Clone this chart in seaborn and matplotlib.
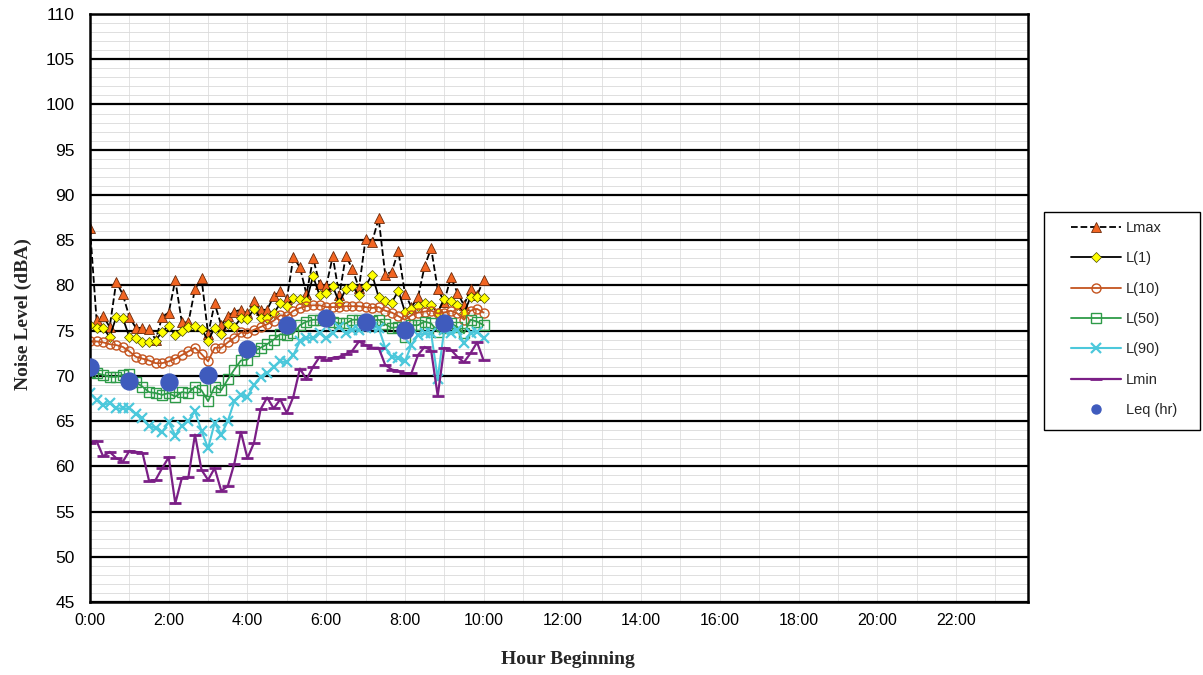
import numpy as np
import pandas as pd
import matplotlib
matplotlib.use('Agg')
import matplotlib.pyplot as plt
import seaborn as sns
from matplotlib.ticker import MultipleLocator, FuncFormatter
from matplotlib.lines import Line2D
from matplotlib.patches import Rectangle

# ==========================================
# DATA (10-minute readings, 0:00 - 10:00)
# ==========================================
lmax = [86.3, 76.2, 76.6, 75.4, 80.4, 79.0, 76.5, 75.3, 75.3, 75.2,
        74.0, 76.5, 77.0, 80.6, 75.9, 75.9, 79.6, 80.8, 74.6, 78.0,
        75.6, 76.6, 77.1, 77.3, 76.9, 78.3, 77.3, 77.3, 78.8, 79.4,
        78.5, 83.1, 82.0, 79.0, 83.0, 80.2, 79.9, 83.2, 78.9, 83.3,
        81.8, 79.7, 85.1, 84.8, 87.4, 81.2, 81.5, 83.8, 79.1, 77.6,
        78.7, 82.1, 84.1, 79.6, 78.2, 80.9, 79.2, 77.8, 79.6, 78.9,
        80.6]
l1 = [75.6, 75.3, 75.3, 74.3, 76.5, 76.4, 74.3, 74.2, 73.7, 73.7,
      73.9, 74.9, 75.5, 74.5, 75.0, 75.4, 75.5, 75.2, 73.9, 75.3,
      74.6, 75.7, 75.4, 76.4, 76.3, 77.4, 76.4, 76.4, 76.9, 78.0,
      77.7, 78.6, 78.5, 78.3, 81.0, 78.9, 79.2, 79.9, 78.1, 79.6,
      79.9, 78.9, 79.9, 81.2, 78.7, 78.3, 78.1, 79.4, 77.1, 77.4,
      77.7, 78.0, 77.8, 77.0, 78.5, 78.3, 77.8, 76.9, 78.7, 78.7,
      78.6]
l10 = [73.8, 73.8, 73.7, 73.5, 73.4, 73.2, 72.7, 72.1, 71.9, 71.7,
       71.4, 71.4, 71.6, 71.9, 72.3, 72.7, 73.1, 72.4, 71.6, 73.1,
       73.1, 73.7, 74.2, 74.8, 74.7, 75.1, 75.4, 75.7, 76.1, 76.7,
       76.6, 77.2, 77.5, 77.7, 77.8, 77.8, 77.6, 77.6, 77.6, 77.7,
       77.7, 77.7, 77.6, 77.5, 77.6, 77.2, 77.0, 76.6, 76.2, 76.7,
       77.0, 77.1, 77.2, 76.9, 77.0, 77.2, 76.9, 76.2, 77.2, 77.4,
       77.0]
l50 = [70.4, 70.3, 70.1, 69.9, 69.9, 70.1, 70.2, 69.3, 68.8, 68.2,
       68.1, 67.9, 68.1, 67.7, 68.2, 68.1, 68.8, 68.4, 67.2, 68.8,
       68.4, 69.6, 70.7, 71.7, 71.8, 72.7, 73.1, 73.5, 74.0, 74.6,
       74.5, 74.7, 75.6, 76.0, 76.2, 76.2, 76.4, 76.0, 75.8, 75.8,
       76.2, 76.2, 76.2, 76.1, 76.2, 75.7, 75.3, 75.4, 74.3, 75.6,
       75.6, 76.0, 75.8, 74.9, 75.3, 75.8, 75.4, 74.7, 76.2, 76.0,
       75.6]
l90 = [68.1, 67.3, 66.8, 67.0, 66.4, 66.4, 66.4, 65.8, 65.3, 64.5,
       64.2, 63.8, 64.9, 63.4, 64.5, 65.0, 66.1, 63.9, 62.0, 64.8,
       63.5, 65.0, 67.2, 67.9, 67.7, 69.0, 69.9, 70.3, 71.0, 71.6,
       71.5, 72.3, 73.8, 74.2, 74.2, 74.7, 74.2, 74.7, 75.4, 74.7,
       75.1, 75.1, 75.3, 75.4, 75.3, 73.1, 72.1, 72.0, 71.6, 73.4,
       74.5, 74.7, 74.7, 69.7, 75.1, 74.7, 75.1, 73.6, 74.7, 74.9,
       74.2]
lmin = [62.6, 62.8, 61.1, 61.6, 60.9, 60.5, 61.7, 61.6, 61.5, 58.4,
        58.5, 59.8, 61.0, 55.9, 58.7, 58.8, 63.5, 59.6, 58.5, 59.8,
        57.3, 57.8, 60.3, 63.8, 60.9, 62.6, 66.3, 67.6, 66.4, 67.4,
        65.9, 67.7, 70.8, 69.6, 71.0, 72.1, 71.7, 72.0, 72.1, 72.4,
        72.8, 73.8, 73.4, 73.1, 73.1, 71.2, 70.7, 70.5, 70.3, 70.3,
        72.3, 73.2, 72.8, 67.8, 73.1, 72.9, 72.1, 71.5, 72.5, 73.7,
        71.7]
leq_hour = ['0:00', '1:00', '2:00', '3:00', '4:00', '5:00', '6:00', '7:00', '8:00', '9:00']
leq = [71.0, 69.4, 69.3, 70.1, 73.0, 75.6, 76.4, 76.0, 75.1, 75.8]

# thoi gian lay mau: moi 10 phut
times = pd.timedelta_range('0h', periods=len(lmax), freq='10min')
df = pd.DataFrame({'hour': times.total_seconds() / 3600,
                   'Lmax': lmax, 'L(1)': l1, 'L(10)': l10,
                   'L(50)': l50, 'L(90)': l90, 'Lmin': lmin})
df_leq = pd.DataFrame({'hour': pd.to_timedelta([h + ':00' for h in leq_hour]).total_seconds() / 3600,
                       'Leq': leq})

# ==========================================
# STYLE
# ==========================================
sns.set_style('white')
plt.rcParams['font.family'] = ['Liberation Sans', 'DejaVu Sans']

fig = plt.figure(figsize=(12.03, 6.75), dpi=100)
ax = fig.add_axes([90 / 1203, 1 - 602 / 675, (1028 - 90) / 1203, (602 - 14) / 675])

# ==========================================
# SERIES
# ==========================================
sns.lineplot(data=df, x='hour', y='Lmax', ax=ax, color='black', linestyle='--', lw=1.3,
             marker='^', markersize=7.5, markerfacecolor='#f26522', markeredgecolor='#6b2a0a',
             markeredgewidth=0.6, label='Lmax')
sns.lineplot(data=df, x='hour', y='L(1)', ax=ax, color='black', lw=1.3,
             marker='D', markersize=5.5, markerfacecolor='#ffff00', markeredgecolor='#4a4a00',
             markeredgewidth=0.5, label='L(1)')
sns.lineplot(data=df, x='hour', y='L(10)', ax=ax, color='#c4541f', lw=1.3,
             marker='o', markersize=6.5, markerfacecolor='none', markeredgecolor='#c4541f',
             markeredgewidth=1.0, label='L(10)')
sns.lineplot(data=df, x='hour', y='L(50)', ax=ax, color='#2e9b48', lw=1.3,
             marker='s', markersize=6.5, markerfacecolor='none', markeredgecolor='#2e9b48',
             markeredgewidth=1.0, label='L(50)')
sns.lineplot(data=df, x='hour', y='L(90)', ax=ax, color='#4cc8db', lw=1.5,
             marker='x', markersize=7, markeredgecolor='#4cc8db', markeredgewidth=1.6, label='L(90)')
sns.lineplot(data=df, x='hour', y='Lmin', ax=ax, color='#7b1f86', lw=1.6,
             marker='_', markersize=8, markeredgecolor='#7b1f86', markeredgewidth=2, label='Lmin')
sns.scatterplot(data=df_leq, x='hour', y='Leq', ax=ax, color='#3f5bbd', s=150,
                edgecolor='#3f5bbd', zorder=5, label='Leq (hr)')

# ==========================================
# AXES / GRID / LABELS
# ==========================================
ax.set_ylim(45, 110)
ax.set_xlim(0, 23.83)
ax.yaxis.set_major_locator(MultipleLocator(5))
ax.yaxis.set_minor_locator(MultipleLocator(1))
ax.xaxis.set_major_locator(MultipleLocator(2))
ax.xaxis.set_minor_locator(MultipleLocator(1))
ax.xaxis.set_major_formatter(FuncFormatter(lambda v, _: f"{int(round(v))}:00"))
ax.grid(False)
ax.grid(which='major', axis='y', color='black', lw=1.6, zorder=0)
ax.grid(which='minor', axis='y', color='#d9d9d9', lw=0.6, zorder=0)
ax.grid(which='both', axis='x', color='#e3e3e3', lw=0.7, zorder=0)
ax.set_axisbelow(True)

for sp in ax.spines.values():
    sp.set_color('black')
    sp.set_linewidth(1.8)
ax.tick_params(axis='y', which='major', direction='out', length=5, width=1, labelsize=12.5,
               colors='black', pad=6)
ax.tick_params(axis='y', which='minor', direction='out', length=3, width=0.8, color='#888888')
ax.tick_params(axis='x', which='both', direction='in', length=4, width=0.8, labelsize=11.5, pad=8)
ax.tick_params(axis='x', which='major', labelcolor='black')

ax.set_ylabel('Noise Level (dBA)', fontsize=14, fontweight='bold', family='Liberation Serif')
ax.set_xlabel('Hour Beginning', fontsize=14, fontweight='bold', family='Liberation Serif')
ax.yaxis.set_label_coords(-0.062, 0.49)
ax.xaxis.set_label_coords(0.51, -0.083)

# ==========================================
# LEGEND (khung ve rieng)
# ==========================================
handles, labels = ax.get_legend_handles_labels()
if ax.get_legend() is not None:
    ax.get_legend().remove()
handles[-1] = Line2D([], [], linestyle='none', marker='o', markersize=6.5,
                     markerfacecolor='#3f5bbd', markeredgecolor='#3f5bbd')
fig.patches.append(Rectangle((1044 / 1203, 1 - 430 / 675), 156 / 1203, 218 / 675,
                             transform=fig.transFigure, fill=False, edgecolor='black', lw=1))
fig.legend(handles, labels, loc='upper left',
           bbox_to_anchor=(1071 / 1203, 1 - 221 / 675),
           fontsize=10.5, frameon=False,
           handlelength=3.4, handletextpad=0.35, labelspacing=1.12,
           borderpad=0, borderaxespad=0)

fig.savefig('out.png', dpi=100, facecolor='white')
